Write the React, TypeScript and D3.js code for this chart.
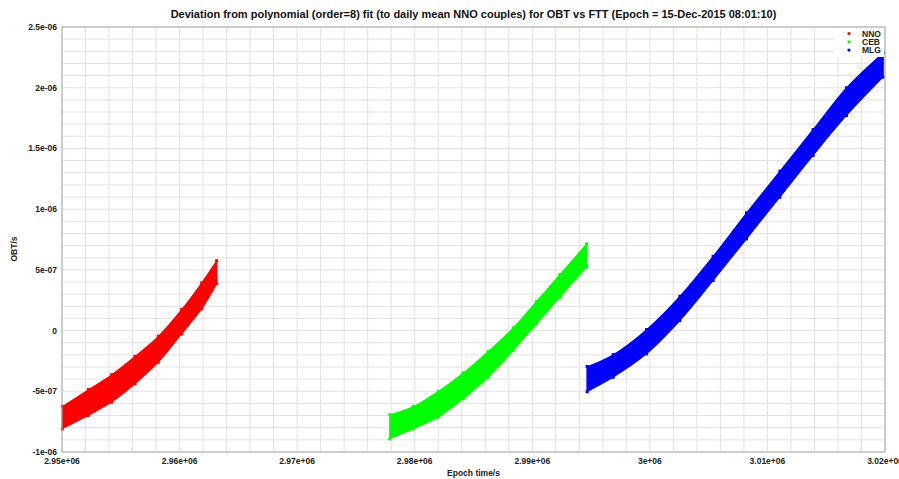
import React from "react";
import * as d3 from "d3";

const W = 899;
const H = 479;
const M = { left: 62, right: 885, top: 27, bottom: 452 };

const titleText =
  "Deviation from polynomial (order=8) fit (to daily mean NNO couples) for OBT vs FTT (Epoch = 15-Dec-2015 08:01:10)";
const xLabel = "Epoch time/s";
const yLabel = "OBT/s";

const xTicks = [2.95e6, 2.96e6, 2.97e6, 2.98e6, 2.99e6, 3.0e6, 3.01e6, 3.02e6];
const xTickLabels = ["2.95e+06", "2.96e+06", "2.97e+06", "2.98e+06", "2.99e+06", "3e+06", "3.01e+06", "3.02e+06"];
const yTicks = [-1e-6, -5e-7, 0, 5e-7, 1e-6, 1.5e-6, 2e-6, 2.5e-6];
const yTickLabels = ["-1e-06", "-5e-07", "0", "5e-07", "1e-06", "1.5e-06", "2e-06", "2.5e-06"];

const seriesNames = ["NNO", "CEB", "MLG"];
const seriesColors = ["#ff0000", "#00ff00", "#0000ff"];

// Band envelopes: [time, upper, lower]
const nnoTime = [2950030, 2952236, 2954226, 2956207, 2958188, 2960178, 2961879, 2963154];
const nnoUpper = [-6.28e-7, -4.9e-7, -3.67e-7, -2.16e-7, -0.51e-7, 1.69e-7, 3.89e-7, 5.72e-7];
const nnoLower = [-8.06e-7, -6.96e-7, -5.86e-7, -4.35e-7, -2.57e-7, -0.23e-7, 1.83e-7, 3.89e-7];

const cebTime = [2977890, 2979872, 2981998, 2984124, 2986249, 2988375, 2990360, 2992345, 2994614];
const cebUpper = [-6.96e-7, -6.28e-7, -5.04e-7, -3.53e-7, -1.75e-7, 0.18e-7, 2.37e-7, 4.57e-7, 7.1e-7];
const cebLower = [-8.88e-7, -8.06e-7, -7.1e-7, -5.58e-7, -3.81e-7, -1.61e-7, 0.59e-7, 2.78e-7, 5.26e-7];

const mlgTime = [2994667, 2996878, 2999717, 3002549, 3005380, 3008220, 3011052, 3013883, 3016723, 3019835];
const mlgUpper = [-3.0e-7, -2.02e-7, 0.04e-7, 2.78e-7, 6.08e-7, 9.65e-7, 13.08e-7, 16.51e-7, 19.95e-7, 22.83e-7];
const mlgLower = [-5.0e-7, -3.81e-7, -1.88e-7, 0.86e-7, 4.16e-7, 7.59e-7, 11.02e-7, 14.46e-7, 17.75e-7, 20.91e-7];

const bands = [
  { time: nnoTime, upper: nnoUpper, lower: nnoLower },
  { time: cebTime, upper: cebUpper, lower: cebLower },
  { time: mlgTime, upper: mlgUpper, lower: mlgLower },
];

const FONT = "'Liberation Sans', Arial, Helvetica, sans-serif";

export default function App() {
  const x = d3.scaleLinear().domain([2.95e6, 3.02e6]).range([M.left, M.right]);
  const y = d3.scaleLinear().domain([-1e-6, 2.5e-6]).range([M.bottom, M.top]);

  const xMinor = d3.range(0, 36).map((i) => 2.95e6 + i * 2000);
  const yMinor = d3.range(0, 36).map((i) => -1e-6 + i * 1e-7);

  return (
    <svg
      width={W}
      height={H}
      style={{ position: "absolute", left: 0, top: 0, background: "#fff" }}
    >
      <rect x={0} y={0} width={W} height={H} fill="#fff" />
      <g>
        {xMinor.map((v, i) => (
          <line key={"gx" + i} x1={x(v)} x2={x(v)} y1={M.top} y2={M.bottom} stroke="#e2e2e2" strokeWidth={1} />
        ))}
        {yMinor.map((v, i) => (
          <line key={"gy" + i} x1={M.left} x2={M.right} y1={y(v)} y2={y(v)} stroke="#e2e2e2" strokeWidth={1} />
        ))}
      </g>
      {bands.map((b, si) => {
        const idx = b.time.map((_, i) => i);
        const a = d3
          .area<number>()
          .x((i) => x(b.time[i]))
          .y0((i) => y(b.lower[i]))
          .y1((i) => y(b.upper[i]))
          .curve(d3.curveCatmullRom.alpha(0.5));
        return (
          <g key={"band" + si}>
            <path
              d={a(idx) || ""}
              fill={seriesColors[si]}
              stroke={seriesColors[si]}
              strokeWidth={1.5}
              strokeLinejoin="round"
            />
            {idx.map((i) => (
              <g key={"p" + i}>
                <rect x={x(b.time[i]) - 1.5} y={y(b.upper[i]) - 2} width={3} height={3} fill={seriesColors[si]} />
                <rect x={x(b.time[i]) - 1.5} y={y(b.lower[i]) - 1} width={3} height={3} fill={seriesColors[si]} />
              </g>
            ))}
          </g>
        );
      })}
      <rect
        x={M.left}
        y={M.top}
        width={M.right - M.left}
        height={M.bottom - M.top}
        fill="none"
        stroke="#a8a8a8"
        strokeWidth={1}
      />
      {yTicks.map((v, i) => (
        <text
          key={"yt" + i}
          x={57}
          y={y(v) + 3}
          textAnchor="end"
          fontFamily={FONT}
          fontWeight="bold"
          fontSize={8.5}
          fill="#222"
        >
          {yTickLabels[i]}
        </text>
      ))}
      {xTicks.map((v, i) => (
        <text
          key={"xt" + i}
          x={x(v)}
          y={464}
          textAnchor="middle"
          fontFamily={FONT}
          fontWeight="bold"
          fontSize={8.5}
          fill="#222"
        >
          {xTickLabels[i]}
        </text>
      ))}
      <text
        x={(M.left + M.right) / 2}
        y={18}
        textAnchor="middle"
        fontFamily={FONT}
        fontWeight="bold"
        fontSize={11}
        fill="#111"
      >
        {titleText}
      </text>
      <text
        x={(M.left + M.right) / 2}
        y={476}
        textAnchor="middle"
        fontFamily={FONT}
        fontWeight="bold"
        fontSize={8.5}
        fill="#222"
      >
        {xLabel}
      </text>
      <text
        transform={`translate(17,249) rotate(-90)`}
        textAnchor="middle"
        fontFamily={FONT}
        fontWeight="bold"
        fontSize={8.5}
        fill="#222"
      >
        {yLabel}
      </text>
      <rect x={834} y={28} width={50} height={29} fill="#fff" />
      {seriesNames.map((n, i) => (
        <g key={"lg" + i}>
          <circle cx={849} cy={33.5 + i * 8.3} r={1.6} fill={seriesColors[i]} />
          <text
            x={862}
            y={36.5 + i * 8.3}
            fontFamily={FONT}
            fontWeight="bold"
            fontSize={8.5}
            fill="#222"
          >
            {n}
          </text>
        </g>
      ))}
    </svg>
  );
}
